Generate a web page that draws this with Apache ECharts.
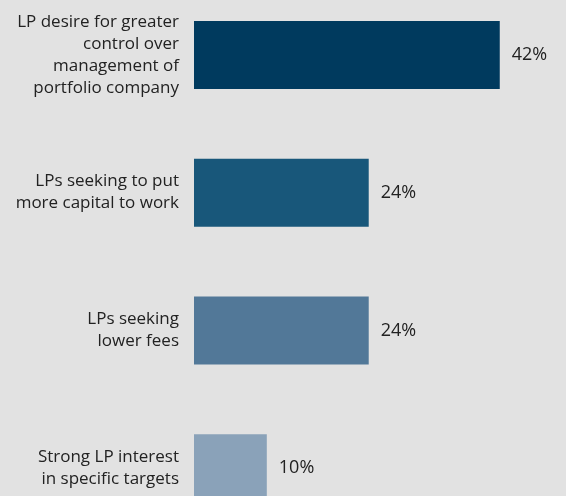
<!DOCTYPE html>
<html>
<head>
<meta charset="utf-8">
<style>
  html, body { margin: 0; padding: 0; background: #e2e2e2; }
  #main { width: 566px; height: 496px; }
</style>
<script src="https://cdn.jsdelivr.net/npm/echarts@6/dist/echarts.min.js"></script>
</head>
<body>
<div id="main"></div>
<script>
// 类别与数值
var categories = [
    'LP desire for greater\ncontrol over\nmanagement of\nportfolio company',
    'LPs seeking to put\nmore capital to work',
    'LPs seeking\nlower fees',
    'Strong LP interest\nin specific targets'
];
var values = [42, 24, 24, 10];
var barColors = ['#003a5e', '#18577a', '#527898', '#8aa2b9'];

var myChart = echarts.init(document.getElementById('main'));
var option = {
    backgroundColor: '#e2e2e2',
    animation: false,
    grid: { left: 194, top: -14, width: 364, height: 551, outerBoundsMode: 'none' },
    xAxis: {
        type: 'value',
        min: 0,
        max: 50,
        show: false
    },
    yAxis: {
        type: 'category',
        inverse: true,
        data: categories,
        axisLine: { show: false },
        axisTick: { show: false },
        axisLabel: {
            margin: 15,
            color: '#222222',
            fontFamily: 'Open Sans',
            fontSize: 17,
            lineHeight: 22,
            align: 'right'
        }
    },
    series: [{
        type: 'bar',
        barWidth: 68,
        data: values.map(function (v, i) {
            return { value: v, itemStyle: { color: barColors[i] } };
        }),
        label: {
            show: true,
            position: 'right',
            distance: 12,
            formatter: '{c}%',
            color: '#222222',
            fontFamily: 'Open Sans',
            fontSize: 18
        }
    }]
};
myChart.setOption(option);
</script>
</body>
</html>
